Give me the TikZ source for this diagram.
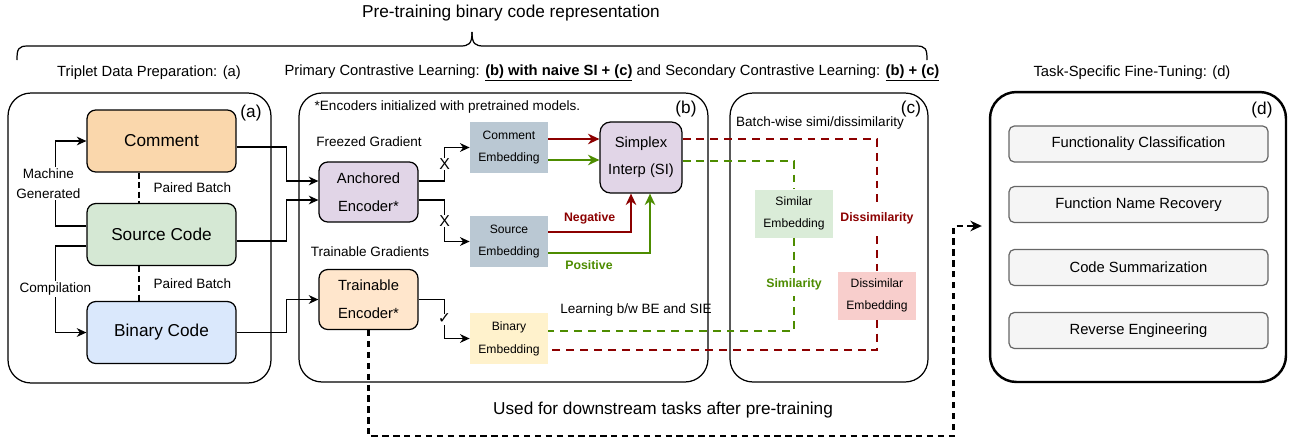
\documentclass[tikz,border=0pt]{standalone}
\usepackage{fontspec}
\setmainfont{Liberation Sans}
\newfontfamily\checkfont{DejaVu Sans}
\usetikzlibrary{arrows.meta,positioning,calc}
\definecolor{commentfill}{RGB}{250,215,172}
\definecolor{sourcefill}{RGB}{213,232,212}
\definecolor{binaryfill}{RGB}{218,232,252}
\definecolor{encoderpurple}{RGB}{225,213,231}
\definecolor{trainorange}{RGB}{255,230,204}
\definecolor{embedgray}{RGB}{186,200,211}
\definecolor{binembyellow}{RGB}{255,242,204}
\definecolor{simgreen}{RGB}{218,236,216}
\definecolor{dissred}{RGB}{248,206,204}
\definecolor{taskgray}{RGB}{245,245,245}
\definecolor{taskborder}{RGB}{102,102,102}
\definecolor{negred}{RGB}{140,0,0}
\definecolor{posgreen}{RGB}{77,140,0}
\tikzset{
    % Stage frames
    stagebox/.style={
        rectangle, draw=black, line width=0.7pt, rounded corners=13pt
    },
    % Triplet data boxes
    databox/.style={
        rectangle, draw=black, line width=0.7pt, rounded corners=5pt,
        minimum width=2.98cm, minimum height=1.24cm,
        font=\fontsize{9.8}{12}\selectfont
    },
    % Encoder boxes
    encoderbox/.style={
        rectangle, draw=black, line width=0.7pt, rounded corners=5pt,
        minimum width=1.98cm, minimum height=1.2cm, align=center,
        font=\fontsize{8.4}{16}\selectfont
    },
    simplexbox/.style={
        rectangle, draw=black, line width=0.7pt, rounded corners=6pt,
        fill=encoderpurple, minimum width=1.64cm, minimum height=1.42cm,
        align=center, font=\fontsize{8.4}{15.5}\selectfont
    },
    % Embedding boxes
    embedbox/.style={
        rectangle, draw=none, minimum width=1.56cm, minimum height=1.02cm,
        align=center, font=\fontsize{6.9}{13}\selectfont
    },
    sidebox/.style={
        rectangle, draw=none, minimum width=1.56cm, minimum height=0.96cm,
        align=center, font=\fontsize{6.9}{12.5}\selectfont
    },
    % Downstream task boxes
    taskbox/.style={
        rectangle, draw=taskborder, line width=0.7pt, fill=taskgray,
        rounded corners=3pt, minimum width=5.18cm, minimum height=0.72cm,
        font=\fontsize{8.4}{10}\selectfont
    },
    % Text styles
    bigtext/.style={font=\fontsize{9.8}{12}\selectfont},
    headlabel/.style={font=\fontsize{8.4}{10}\selectfont},
    smalltext/.style={font=\fontsize{7.7}{9.5}\selectfont},
    sidelabel/.style={fill=white, inner sep=1pt, align=center,
        font=\fontsize{7.7}{11.4}\selectfont},
    gatemark/.style={fill=white, inner sep=0.3pt, font=\fontsize{9}{9}\selectfont},
    negtext/.style={text=negred, font=\fontsize{7}{8}\selectfont\bfseries},
    postext/.style={text=posgreen, font=\fontsize{7}{8}\selectfont\bfseries},
    % Connectors
    conn/.style={draw=black, line width=0.8pt, >={Stealth[length=5.5pt,width=5pt]}},
    negarrow/.style={->, >={Stealth[length=6.5pt,width=6pt]}, line width=1.3pt, draw=negred},
    posarrow/.style={->, >={Stealth[length=6.5pt,width=6pt]}, line width=1.3pt, draw=posgreen},
    negdash/.style={draw=negred, line width=1.4pt, dash pattern=on 4.5pt off 3.4pt},
    posdash/.style={draw=posgreen, line width=1.4pt, dash pattern=on 4.5pt off 3.4pt},
    pairdash/.style={draw=black, line width=1.4pt, dash pattern=on 3.4pt off 2pt},
    downarrow/.style={->, >={Stealth[length=6.5pt,width=6pt]}, line width=1.4pt,
        dash pattern=on 3.6pt off 2.6pt},
    bracket/.style={draw=black, line width=0.7pt}
}

\begin{document}
\begin{tikzpicture}[x=0.02cm, y=-0.02cm]
\useasboundingbox (0,0) rectangle (1291,440);

% Header and brace
\node[bigtext] (title) at (511,13) {Pre-training binary code representation};
\draw[bracket] (17,60) .. controls (17,49) and (18,46) .. (28,46) -- (460,46) .. controls (469,46) and (472,44) .. (472,32);
\draw[bracket] (472,32) .. controls (472,44) and (475,46) .. (484,46) -- (916,46) .. controls (926,46) and (927,49) .. (927,60);
\node[headlabel] (labA) at (149,73) {Triplet Data Preparation: (a)};
\node[headlabel] (labBC) at (612,73) {Primary Contrastive Learning: \underline{\textbf{(b) with naive SI + (c)}} and Secondary Contrastive Learning: \underline{\textbf{(b) + (c)}}};
\node[headlabel] (labD) at (1132,73) {Task-Specific Fine-Tuning: (d)};

% Stage frames
\node[stagebox, minimum width=5.26cm, minimum height=5.8cm] (stageA) at (139.5,238) {};
\node[stagebox, minimum width=8.18cm, minimum height=5.78cm] (stageB) at (503.5,237.5) {};
\node[stagebox, minimum width=3.96cm, minimum height=5.78cm] (stageC) at (829,237.5) {};
\node[stagebox, line width=1.4pt, rounded corners=15pt, minimum width=5.92cm, minimum height=5.8cm] (stageD) at (1138,237) {};
\node[bigtext] (tagA) at (251,113) {(a)};
\node[bigtext] (tagB) at (686,109) {(b)};
\node[bigtext] (tagC) at (911,109) {(c)};
\node[bigtext] (tagD) at (1262,110) {(d)};

% (a) triplet data
\node[databox, fill=commentfill] (comment) at (161.5,141) {Comment};
\node[databox, fill=sourcefill] (source) at (161.5,234.5) {Source Code};
\node[databox, fill=binaryfill] (binary) at (161.5,332.5) {Binary Code};
\draw[conn, ->] ([yshift=0.17cm]source.west) -- ++(-31,0) |- node[pos=0.25, sidelabel, xshift=-0.14cm] {Machine\\Generated} (comment.west);
\draw[conn, ->] ([yshift=-0.23cm]source.west) -- ++(-31,0) |- node[pos=0.25, sidelabel] {Compilation} (binary.west);
\draw[pairdash] ([xshift=-0.45cm]comment.south) -- ([xshift=-0.45cm]source.north) node[midway, right=0.15cm, smalltext] {Paired Batch};
\draw[pairdash] ([xshift=-0.45cm]source.south) -- ([xshift=-0.45cm]binary.north) node[midway, right=0.15cm, smalltext] {Paired Batch};

% (b) encoders and embeddings
\node[smalltext, anchor=west] (note) at (308.5,107) {*Encoders initialized with pretrained models.};
\node[smalltext] (frozen) at (369,142) {Freezed Gradient};
\node[encoderbox, fill=encoderpurple] (anchored) at (368.5,192) {Anchored\\Encoder*};
\node[smalltext] (trainlab) at (370,252) {Trainable Gradients};
\node[encoderbox, fill=trainorange] (trainable) at (368.5,299.5) {Trainable\\Encoder*};
\node[embedbox, fill=embedgray] (cemb) at (509,147.5) {Comment\\Embedding};
\node[embedbox, fill=embedgray] (semb) at (509,241.5) {Source\\Embedding};
\node[embedbox, fill=binembyellow] (bemb) at (509,338.5) {Binary\\Embedding};
\node[simplexbox] (si) at (641,157.5) {Simplex\\Interp (SI)};

\draw[conn, ->] ([yshift=-0.12cm]comment.east) -- ++(50,0) |- ([yshift=0.22cm]anchored.west);
\draw[conn, ->] ([yshift=-0.13cm]source.east) -- ++(50,0) |- ([yshift=-0.16cm]anchored.west);
\draw[conn, ->] (binary.east) -- ++(50,0) |- (trainable.west);
\draw[conn, ->] ([yshift=0.22cm]anchored.east) -- ++(26,0) |- node[pos=0.25, gatemark] {X} (cemb.west);
\draw[conn, ->] ([yshift=-0.16cm]anchored.east) -- ++(26,0) |- node[pos=0.25, gatemark] {X} (semb.west);
\draw[conn, ->] (trainable.east) -- ++(26,0) |- node[pos=0.25, gatemark] {\checkfont ✓} (bemb.west);

\draw[negarrow] ([yshift=0.17cm]cemb.east) -- ([yshift=0.17cm]cemb.east -| si.west);
\draw[posarrow] ([yshift=-0.25cm]cemb.east) -- ([yshift=-0.25cm]cemb.east -| si.west);
\draw[negarrow] ([yshift=0.19cm]semb.east) -| node[pos=0.25, above=0.5pt, negtext] {Negative} ([xshift=-0.2cm]si.south);
\draw[posarrow] ([yshift=-0.23cm]semb.east) -| node[pos=0.2, below=0.5pt, postext] {Positive} ([xshift=0.18cm]si.south);
\node[smalltext] (learnlab) at (636,310) {Learning b/w BE and SIE};

% (c) batch-wise similarity
\node[smalltext] (batchlab) at (820,123) {Batch-wise simi/dissimilarity};
\node[sidebox, fill=simgreen] (simemb) at (794,213.5) {Similar\\Embedding};
\node[sidebox, fill=dissred] (dissemb) at (877,295.5) {Dissimilar\\Embedding};
\draw[negdash] ([yshift=0.37cm]si.east) -| node[pos=0.8, negtext, fill=white] {Dissimilarity} (dissemb.north);
\draw[negdash] (dissemb.south) |- ([yshift=-0.23cm]bemb.east);
\draw[posdash] ([yshift=-0.07cm]si.east) -| (simemb.north);
\draw[posdash] (simemb.south) |- node[pos=0.25, postext, fill=white] {Similarity} ([yshift=0.15cm]bemb.east);

% (d) downstream tasks
\node[taskbox] (task1) at (1138.5,144) {Functionality Classification};
\node[taskbox] (task2) at (1138.5,204.5) {Function Name Recovery};
\node[taskbox] (task3) at (1138.5,267.5) {Code Summarization};
\node[taskbox] (task4) at (1138.5,330.5) {Reverse Engineering};

% Downstream use
\draw[downarrow] (trainable.south) -- ++(0,106) -- ++(585,0) |- ([xshift=-0.14cm,yshift=0.22cm]stageD.west);
\node[bigtext] (downlab) at (663,410) {Used for downstream tasks after pre-training};

\end{tikzpicture}
\end{document}
